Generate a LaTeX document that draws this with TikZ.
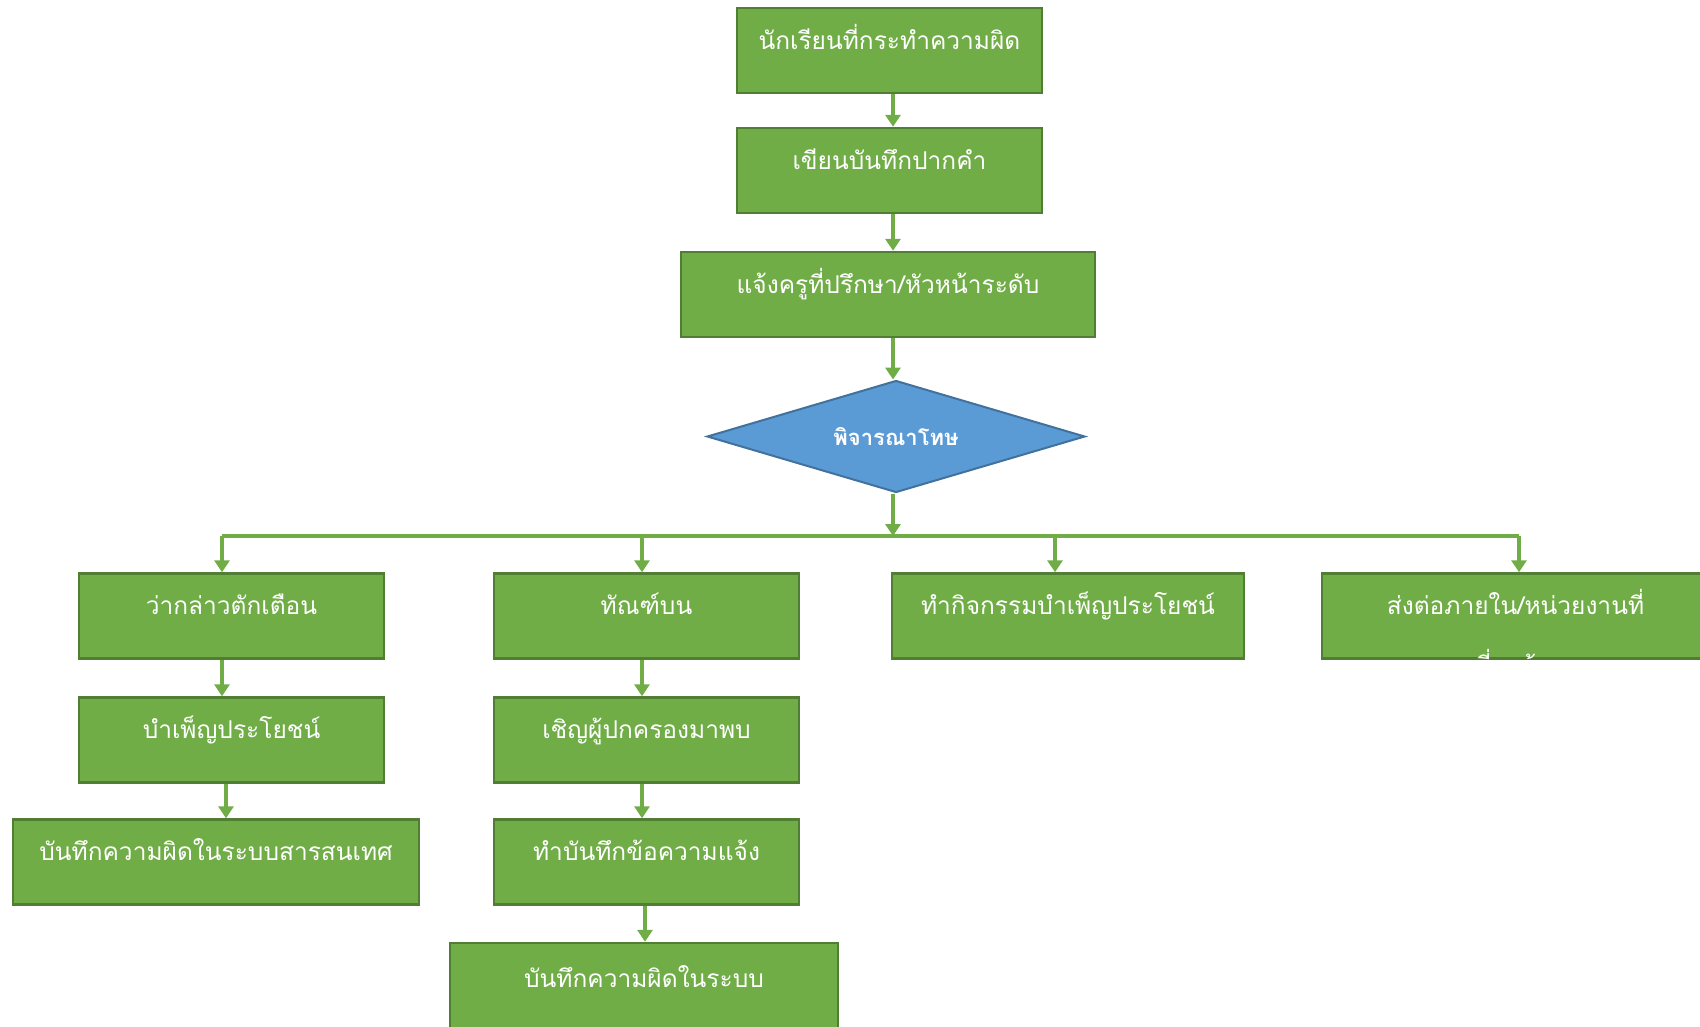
\documentclass[tikz,border=0pt]{standalone}
\usepackage{fontspec}
\newfontfamily\thaifont[Script=Thai]{Loma}
\usetikzlibrary{shapes.geometric,arrows.meta}
\definecolor{gfill}{HTML}{70AD47}
\definecolor{gline}{HTML}{507E32}
\definecolor{bfill}{HTML}{5B9BD5}
\definecolor{bline}{HTML}{41719C}

\begin{document}
\begin{tikzpicture}[x=1pt,y=-1pt,
  box/.style={draw=gline,fill=gfill,line width=2.5pt,minimum height=85pt,inner sep=0pt,
    text=white,font=\thaifont\fontsize{24.5}{28}\selectfont,text height=14pt,text depth=17pt},
  decide/.style={diamond,aspect=3.4,draw=bline,fill=bfill,line width=2pt,minimum width=378pt,minimum height=112pt,
    inner sep=0pt,text=white,font=\thaifont\bfseries\fontsize{22}{26}\selectfont},
  arr/.style={draw=gfill,line width=3.6pt,-{Triangle[width=15pt,length=12pt]}}]

\useasboundingbox (0,0) rectangle (1700,1026);

      \node[box,minimum width=305pt] (stu) at (889.5,50.5) {นักเรียนที่กระทำความผิด};
       \node[box,minimum width=305pt] (note) at (889.5,170.5) {เขียนบันทึกปากคำ};
        \node[box,minimum width=414pt] (tell) at (888,294.5) {แจ้งครูที่ปรึกษา/หัวหน้าระดับ};
         \node[decide] (judge) at (896,436.5) {พิจารณาโทษ};

      \coordinate (fork) at (893,536);
       \coordinate (br1) at (222,536);
        \coordinate (br2) at (642,536);
         \coordinate (br3) at (1055,536);
          \coordinate (br4) at (1519,536);
           \coordinate (br5) at (226,536);
            \coordinate (br6) at (645,536);

      \node[box,minimum width=305pt] (warn) at (231.5,616) {ว่ากล่าวตักเตือน};
       \node[box,minimum width=305pt] (serve) at (231.5,740) {บำเพ็ญประโยชน์};
        \node[box,minimum width=406pt] (logit) at (216,862) {บันทึกความผิดในระบบสารสนเทศ};

      \node[box,minimum width=305pt] (probate) at (646.5,616) {ทัณฑ์บน};
       \node[box,minimum width=305pt] (parent) at (646.5,740) {เชิญผู้ปกครองมาพบ};
        \node[box,minimum width=305pt] (memo) at (646.5,862) {ทำบันทึกข้อความแจ้ง};
         \node[box,minimum width=388pt,minimum height=92pt] (record) at (644,989) {บันทึกความผิดในระบบ};

      \node[box,minimum width=352pt] (activity) at (1068,616) {ทำกิจกรรมบำเพ็ญประโยชน์};
       \node[box,minimum width=387pt] (refer) at (1515.5,616) {ส่งต่อภายใน/หน่วยงานที่};
\begin{scope}
 \clip ([xshift=2pt,yshift=-2pt]refer.south west) rectangle ([xshift=-2pt,yshift=2pt]refer.north east);
 \node[text=white,font=\thaifont\fontsize{24.5}{28}\selectfont,anchor=base] at ([yshift=-58pt]refer.center) {เกี่ยวข้อง};
\end{scope}

\draw[arr] (stu.south -| fork)--(note.north -| fork);
\draw[arr] (note.south -| fork)--(tell.north -| fork);
\draw[arr] (tell.south -| fork)--(judge.north -| fork);
\draw[arr] (judge.south -| fork)--(fork);
\draw[draw=gfill,line width=3.6pt] (br1)--(br4);
\draw[arr] (br1)--(warn.north -| br1);
\draw[arr] (br2)--(probate.north -| br2);
\draw[arr] (br3)--(activity.north -| br3);
\draw[arr] (br4)--(refer.north -| br4);
\draw[arr] (warn.south -| br1)--(serve.north -| br1);
\draw[arr] (serve.south -| br5)--(logit.north -| br5);
\draw[arr] (probate.south -| br2)--(parent.north -| br2);
\draw[arr] (parent.south -| br2)--(memo.north -| br2);
\draw[arr] (memo.south -| br6)--(record.north -| br6);
\end{tikzpicture}
\end{document}
